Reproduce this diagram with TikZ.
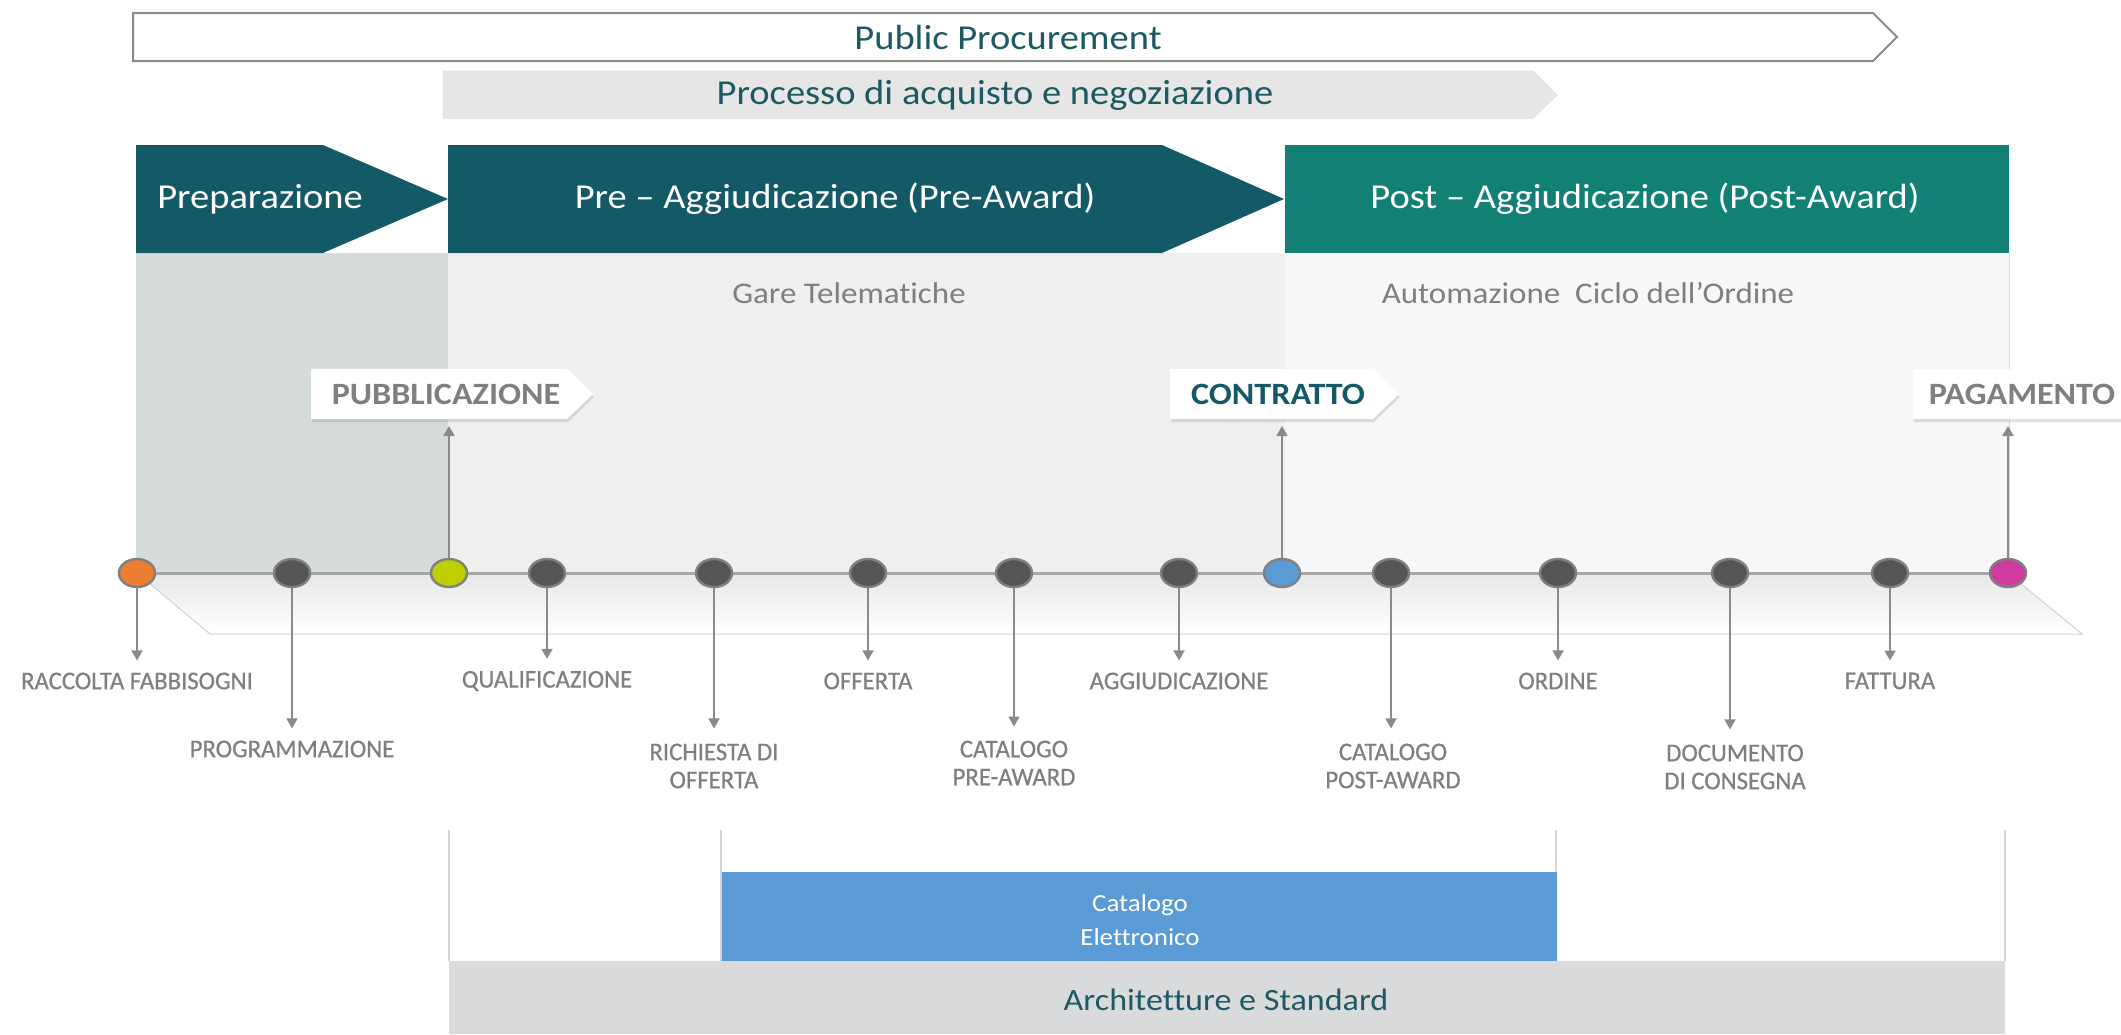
\documentclass[tikz,border=0pt]{standalone}
\usepackage{fontspec}
\setmainfont{Carlito}[FakeStretch=1.1,Ligatures=NoCommon]
\newfontfamily\lblfont{Carlito}[FakeStretch=0.97,FakeBold=0.6,Ligatures=NoCommon]
\usetikzlibrary{arrows.meta,shadows,shapes.geometric}
\definecolor{tealA}{HTML}{135A66}
\definecolor{tealB}{HTML}{128074}
\definecolor{tealT}{HTML}{1B5A63}
\definecolor{prepC}{HTML}{D5DBDA}
\definecolor{preC}{HTML}{EEF0EF}
\definecolor{postC}{HTML}{F7F7F7}
\definecolor{lineC}{HTML}{A6A6A6}
\definecolor{txtG}{HTML}{7F7F7F}
\definecolor{arrC}{HTML}{8A8A8A}
\definecolor{dotD}{HTML}{555555}
\definecolor{dotBd}{HTML}{808080}
\definecolor{dotO}{HTML}{ED7D31}
\definecolor{dotG}{HTML}{BFCE00}
\definecolor{dotB}{HTML}{5B9BD5}
\definecolor{dotM}{HTML}{D13A9E}
\definecolor{procC}{HTML}{E6E6E6}
\definecolor{archC}{HTML}{D9DADB}
\definecolor{catC}{HTML}{5B9BD5}
\definecolor{archT}{HTML}{1F5964}
\definecolor{floorT}{HTML}{E6E8E8}
\definecolor{thinC}{HTML}{D4D4D4}
\begin{document}
\begin{tikzpicture}[x=1pt,y=-1pt,
  dot/.style={ellipse,draw=dotBd,line width=2.4pt,minimum width=36pt,minimum height=28pt,inner sep=0pt},
  lbl/.style={font=\lblfont\fontsize{25.5}{28}\selectfont,text=txtG,align=center,inner sep=0pt},
  dn/.style={draw=arrC,line width=1.8pt,-{Triangle[width=11pt,length=10pt]},shorten >=#1},
  dn/.default=12pt,
  up/.style={draw=arrC,line width=1.8pt,-{Triangle[width=11pt,length=10pt]},shorten >=7pt},
  hdr/.style={font=\fontsize{35}{40}\selectfont,text=white,inner sep=0pt},
  ttl/.style={font=\fontsize{35}{40}\selectfont,text=tealT,inner sep=0pt},
  sub/.style={font=\fontsize{30}{36}\selectfont,text=txtG,inner sep=0pt},
  tagbox/.style={fill=white,drop shadow={opacity=0.25,shadow xshift=1pt,shadow yshift=-3pt}},
  tagtxt/.style={font=\bfseries\fontsize{31}{31}\selectfont,inner sep=0pt},
  thin/.style={draw=thinC,line width=1.5pt}
]
\useasboundingbox (0,0) rectangle (2121,1034);
\fill[white] (0,0) rectangle (2121,1034);

% top arrows
\path[draw=arrC,line width=2pt,fill=white] (133,13) -- (1873,13) -- (1897,37) -- (1873,61) -- (133,61) -- cycle;
\node[ttl] (pp) at (1008,37) {Public Procurement};
\path[fill=procC,draw=black!12,line width=1pt] (443,71) -- (1533,71) -- (1557,95) -- (1533,118) -- (443,118) -- cycle;
\node[ttl] (proc) at (995,95) {Processo di acquisto e negoziazione};

% body regions
\fill[prepC] (136,253) rectangle (448,573);
\fill[preC] (448,253) rectangle (1285,573);
\fill[postC] (1285,253) rectangle (2009,573);
\draw[draw=black!15,line width=1pt] (2009,253) -- (2009,573);

% headers
\fill[tealA] (136,145) -- (323,145) -- (448,199) -- (323,253) -- (136,253) -- cycle;
\fill[tealA] (448,145) -- (1162,145) -- (1284,199) -- (1162,253) -- (448,253) -- cycle;
\fill[tealB] (1285,145) rectangle (2009,253);
\node[hdr] (prep) at (260,199) {Preparazione};
\node[hdr] (pre) at (835,199) {Pre – Aggiudicazione (Pre-Award)};
\node[hdr] (post) at (1645,199) {Post – Aggiudicazione (Post-Award)};
\node[sub] (gare) at (849,293) {Gare Telematiche};
\node[sub] (auto) at (1588,293) {Automazione\ \ Ciclo dell’Ordine};

% floor
\path[top color=floorT,bottom color=white,draw=black!18,line width=1pt] (137,573) -- (2008,573) -- (2082,634) -- (210,634) -- cycle;

% tags
\path[tagbox] (311,369) -- (567,369) -- (593,394) -- (567,419) -- (311,419) -- cycle;
\node[tagtxt,text=txtG] (pubT) at (446,394) {PUBBLICAZIONE};
\coordinate (pubB) at (449,419);
\path[tagbox] (1170,369) -- (1373,369) -- (1399,394) -- (1373,419) -- (1170,419) -- cycle;
\node[tagtxt,text=tealA] (conT) at (1278,394) {CONTRATTO};
\coordinate (conB) at (1282,419);
\path[tagbox] (1913,369) -- (2140,369) -- (2166,394) -- (2140,419) -- (1913,419) -- cycle;
\node[tagtxt,text=txtG] (pagT) at (2022,394) {PAGAMENTO};
\coordinate (pagB) at (2008,419);

% timeline
\draw[lineC,line width=3pt] (137,573) -- (2008,573);

% dots
\node[dot,fill=dotO] (n1) at (137,573) {};
\node[dot,fill=dotD] (n2) at (292,573) {};
\node[dot,fill=dotG] (n3) at (449,573) {};
\node[dot,fill=dotD] (n4) at (547,573) {};
\node[dot,fill=dotD] (n5) at (714,573) {};
\node[dot,fill=dotD] (n6) at (868,573) {};
\node[dot,fill=dotD] (n7) at (1014,573) {};
\node[dot,fill=dotD] (n8) at (1179,573) {};
\node[dot,fill=dotB] (n9) at (1282,573) {};
\node[dot,fill=dotD] (n10) at (1391,573) {};
\node[dot,fill=dotD] (n11) at (1558,573) {};
\node[dot,fill=dotD] (n12) at (1730,573) {};
\node[dot,fill=dotD] (n13) at (1890,573) {};
\node[dot,fill=dotM] (n14) at (2008,573) {};

% labels
\node[lbl] (l1) at (137,681) {RACCOLTA FABBISOGNI};
\node[lbl] (l2) at (292,749) {PROGRAMMAZIONE};
\node[lbl] (l4) at (547,681) {QUALIFICAZIONE};
\node[lbl] (l5) at (714,766) {RICHIESTA DI\\OFFERTA};
\node[lbl] (l6) at (868,681) {OFFERTA};
\node[lbl] (l7) at (1014,763) {CATALOGO\\PRE-AWARD};
\node[lbl] (l8) at (1179,681) {AGGIUDICAZIONE};
\node[lbl] (l10) at (1393,766) {CATALOGO\\POST-AWARD};
\node[lbl] (l11) at (1558,681) {ORDINE};
\node[lbl] (l12) at (1735,767) {DOCUMENTO\\DI CONSEGNA};
\node[lbl] (l13) at (1890,681) {FATTURA};

% down arrows
\draw[dn] (n1.south) -- (n1.south |- l1.north);
\draw[dn] (n2.south) -- (n2.south |- l2.north);
\draw[dn] (n4.south) -- (n4.south |- l4.north);
\draw[dn=15pt] (n5.south) -- (n5.south |- l5.north);
\draw[dn] (n6.south) -- (n6.south |- l6.north);
\draw[dn=14pt] (n7.south) -- (n7.south |- l7.north);
\draw[dn] (n8.south) -- (n8.south |- l8.north);
\draw[dn=15pt] (n10.south) -- (n10.south |- l10.north);
\draw[dn] (n11.south) -- (n11.south |- l11.north);
\draw[dn=15pt] (n12.south) -- (n12.south |- l12.north);
\draw[dn] (n13.south) -- (n13.south |- l13.north);

% up arrows
\draw[up] (n3.north) -- (pubB);
\draw[up] (n9.north) -- (conB);
\draw[up] (n14.north) -- (pagB);

% lower section
\draw[thin] (449,830) -- (449,961);
\draw[thin] (721,830) -- (721,961);
\draw[thin] (1556,830) -- (1556,961);
\draw[thin] (2005,830) -- (2005,961);
\fill[catC] (722,872) rectangle (1557,961);
\node[font=\fontsize{24.5}{34}\selectfont,text=white,align=center,inner sep=0pt] (cat) at (1140,920) {Catalogo\\Elettronico};
\fill[archC] (449,961) rectangle (2005,1034);
\node[font=\fontsize{31}{36}\selectfont,text=archT,inner sep=0pt] (arch) at (1226,1000) {Architetture e Standard};
\end{tikzpicture}
\end{document}
